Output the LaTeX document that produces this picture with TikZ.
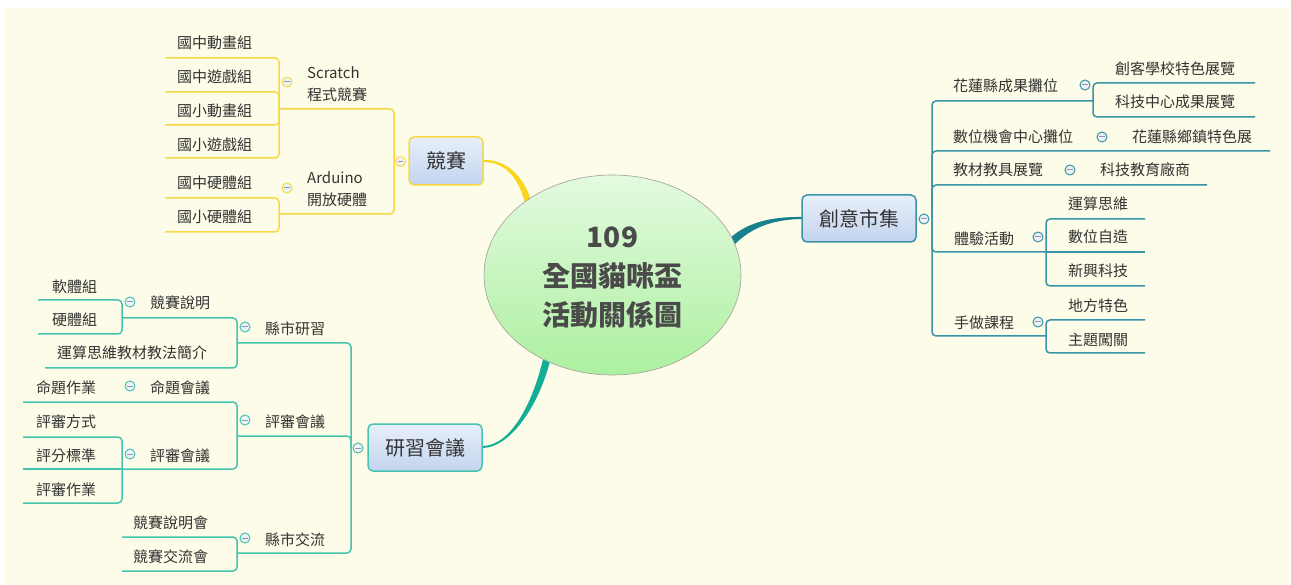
\documentclass[tikz,border=0pt]{standalone}
\usepackage{fontspec}
\newfontfamily\cjk{Noto Sans CJK TC}
\usetikzlibrary{shapes.geometric}
\definecolor{bg}{HTML}{FDFCE8}
\definecolor{yl}{HTML}{F7D948}
\definecolor{ylt}{HTML}{FAD51E}
\definecolor{cb}{HTML}{3A94A7}
\definecolor{cbt}{HTML}{17808F}
\definecolor{gt}{HTML}{45C4AF}
\definecolor{gtt}{HTML}{14AE98}
\definecolor{txt}{HTML}{333333}
\definecolor{rtxt}{HTML}{4A4A4A}
\definecolor{boxtop}{HTML}{E8EFFA}
\definecolor{boxbot}{HTML}{C2D4EE}
\definecolor{rtop}{HTML}{E3FADF}
\definecolor{rbot}{HTML}{ADF0A0}
\definecolor{btnfill}{HTML}{EEF2F7}
\definecolor{btnminus}{HTML}{8A9BB0}
\begin{document}
\begin{tikzpicture}[x=1pt,y=-1pt,
  leaf/.style={font=\cjk\fontsize{15}{22}\selectfont, text=txt, inner sep=0pt, anchor=west, align=left},
  mainbox/.style={draw=#1, line width=1.5pt, rounded corners=5pt, top color=boxtop, bottom color=boxbot,
     font=\cjk\fontsize{20}{24}\selectfont, text=txt, inner sep=0pt},
  ln/.style={draw=#1, line width=1.5pt, rounded corners=4pt},
  cbtn/.style={circle, draw=#1, line width=1pt, fill=btnfill, minimum size=10pt, inner sep=0pt,
     path picture={\draw[btnminus, line width=1pt] ([xshift=-2.6pt]path picture bounding box.center) -- ([xshift=2.6pt]path picture bounding box.center);}}
]
\useasboundingbox (0,0) rectangle (1291,585);
\fill[white] (0,0) rectangle (1291,585);
\fill[bg] (4,8) rectangle (1289,585);

% thick tapered connectors from the centre
\fill[ylt] (484,160) .. controls (508,159.5) and (525,179) .. (531,201) -- (525,203) .. controls (519,181) and (508,162.5) .. (484,162) -- cycle;
\fill[cbt] (802,219) .. controls (770,219.5) and (750,229) .. (734,245) -- (729,239) .. controls (746,223) and (770,216.5) .. (802,217) -- cycle;
\fill[gtt] (482,446) .. controls (512,446) and (534,400) .. (544,355) -- (551,357) .. controls (541,401) and (512,448) .. (482,448) -- cycle;

% central topic
\node[ellipse, draw=gray!75, line width=0.6pt, top color=rtop, bottom color=rbot,
      minimum width=257pt, minimum height=200pt, inner sep=0pt] (root) at (612.5,275) {};
\node[font=\cjk\bfseries\fontsize{28}{39}\selectfont, text=rtxt, align=center, inner sep=0pt] (roottxt) at (612.5,277.5) {109\\全國貓咪盃\\活動關係圖};

% ---------------- 競賽 branch ----------------
\coordinate (ja) at (394,161.5);
\coordinate (js) at (279,109);
\coordinate (jd) at (279,214);
\draw[ln=yl] (ja) |- (js);
\draw[ln=yl] (ja) |- (jd);
\draw[ln=yl] (js) |- (165,58);
\draw[ln=yl] (js) |- (165,92);
\draw[ln=yl] (js) |- (165,125);
\draw[ln=yl] (js) |- (165,158);
\draw[ln=yl] (jd) |- (165,198);
\draw[ln=yl] (jd) |- (165,232);
\node[mainbox=yl, minimum width=74pt, minimum height=48pt] (jing) at (446,161) {競賽};
\node[cbtn=yl] (bj) at (400.5,161.5) {};
\node[cbtn=yl] (bscr) at (287,82) {};
\node[cbtn=yl] (bard) at (287,188) {};
\node[leaf] (g1) at (177,43) {國中動畫組};
\node[leaf] (g2) at (177,77) {國中遊戲組};
\node[leaf] (g3) at (177,111) {國小動畫組};
\node[leaf] (g4) at (177,145) {國小遊戲組};
\node[leaf] (scr) at (307,84.5) {Scratch\\程式競賽};
\node[leaf] (g5) at (177,183) {國中硬體組};
\node[leaf] (g6) at (177,217) {國小硬體組};
\node[leaf] (ard) at (307,189.5) {Arduino\\開放硬體};

% ---------------- 創意市集 branch ----------------
\coordinate (ca) at (932,218.5);
\coordinate (c1s) at (1093,101);
\coordinate (c4s) at (1046,252);
\coordinate (c5s) at (1046,336);
\draw[ln=cb] (ca) |- (c1s);
\draw[ln=cb] (ca) |- (1270,151);
\draw[ln=cb] (ca) |- (1207,185);
\draw[ln=cb] (ca) |- (c4s);
\draw[ln=cb] (ca) |- (c5s);
\draw[ln=cb] (c1s) |- (1255,83);
\draw[ln=cb] (c1s) |- (1255,117);
\draw[ln=cb] (c4s) |- (1145,219);
\draw[ln=cb] (c4s) -- (1145,252);
\draw[ln=cb] (c4s) |- (1145,286);
\draw[ln=cb] (c5s) |- (1145,320);
\draw[ln=cb] (c5s) |- (1145,353);
\node[mainbox=cb, minimum width=114pt, minimum height=47pt] (chuang) at (859,218.5) {創意市集};
\node[cbtn=cb] (bc) at (924,219) {};
\node[cbtn=cb] (bc1) at (1085,85) {};
\node[cbtn=cb] (bc2) at (1102,137) {};
\node[cbtn=cb] (bc3) at (1070,170) {};
\node[cbtn=cb] (bc4) at (1038,237) {};
\node[cbtn=cb] (bc5) at (1038,322) {};
\node[leaf] (c1) at (953,86) {花蓮縣成果攤位};
\node[leaf] (c11) at (1115,69) {創客學校特色展覽};
\node[leaf] (c12) at (1115,102) {科技中心成果展覽};
\node[leaf] (c2) at (953,137) {數位機會中心攤位};
\node[leaf] (c21) at (1132,137) {花蓮縣鄉鎮特色展};
\node[leaf] (c3) at (953,170) {教材教具展覽};
\node[leaf] (c31) at (1100,170) {科技教育廠商};
\node[leaf] (c4) at (954,239) {體驗活動};
\node[leaf] (c41) at (1068,204) {運算思維};
\node[leaf] (c42) at (1068,237) {數位自造};
\node[leaf] (c43) at (1068,271) {新興科技};
\node[leaf] (c5) at (954,323) {手做課程};
\node[leaf] (c51) at (1068,306) {地方特色};
\node[leaf] (c52) at (1068,340) {主題闖關};

% ---------------- 研習會議 branch ----------------
\coordinate (ya) at (351,448);
\coordinate (y1s) at (237,343);
\coordinate (y2s) at (237,436);
\coordinate (y3s) at (237,553);
\coordinate (y11s) at (122,318);
\coordinate (y22s) at (122,469);
\draw[ln=gt] (ya) |- (y1s);
\draw[ln=gt] (ya) |- (y2s);
\draw[ln=gt] (ya) |- (y3s);
\draw[ln=gt] (y1s) |- (y11s);
\draw[ln=gt] (y1s) |- (45,368);
\draw[ln=gt] (y11s) |- (38,300);
\draw[ln=gt] (y11s) |- (38,334);
\draw[ln=gt] (y2s) |- (23,402);
\draw[ln=gt] (y2s) |- (y22s);
\draw[ln=gt] (y22s) |- (23,437);
\draw[ln=gt] (y22s) -- (23,469);
\draw[ln=gt] (y22s) |- (23,503);
\draw[ln=gt] (y3s) |- (122,537);
\draw[ln=gt] (y3s) |- (122,571);
\node[mainbox=gt, minimum width=114pt, minimum height=47pt] (yan) at (425,447.5) {研習會議};
\node[cbtn=gt] (by) at (358,448) {};
\node[cbtn=gt] (by1) at (245,327) {};
\node[cbtn=gt] (by2) at (245,420) {};
\node[cbtn=gt] (by3) at (245,538) {};
\node[cbtn=gt] (by11) at (130,302) {};
\node[cbtn=gt] (by21) at (130,386) {};
\node[cbtn=gt] (by22) at (130,454) {};
\node[leaf] (y1) at (265,329) {縣市研習};
\node[leaf] (y11) at (150,303) {競賽說明};
\node[leaf] (y111) at (52,287) {軟體組};
\node[leaf] (y112) at (52,320) {硬體組};
\node[leaf] (y12) at (57,353) {運算思維教材教法簡介};
\node[leaf] (y2) at (265,422) {評審會議};
\node[leaf] (y21) at (150,388) {命題會議};
\node[leaf] (y211) at (36,388) {命題作業};
\node[leaf] (y22) at (150,456) {評審會議};
\node[leaf] (y221) at (36,422) {評審方式};
\node[leaf] (y222) at (36,456) {評分標準};
\node[leaf] (y223) at (36,490) {評審作業};
\node[leaf] (y3) at (265,540) {縣市交流};
\node[leaf] (y31) at (133,523) {競賽說明會};
\node[leaf] (y32) at (133,557) {競賽交流會};
\end{tikzpicture}
\end{document}
